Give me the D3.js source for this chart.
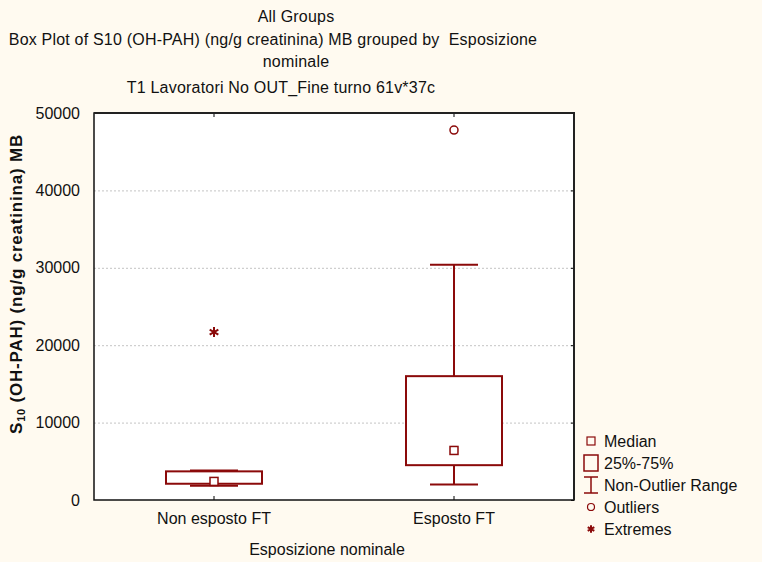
<!DOCTYPE html>
<html><head><meta charset="utf-8">
<script src="https://cdn.jsdelivr.net/npm/d3@7"></script>
<style>
html,body{margin:0;padding:0;background:#FFFAF0;}
svg{display:block;font-family:Arial,"Liberation Sans",sans-serif;}
</style></head>
<body><svg id="c" width="762" height="562"></svg>
<script>
const categories = ["Non esposto FT", "Esposto FT"];
const medians = [2400, 6400];
const q1 = [2100, 4500];
const q3 = [3700, 16000];
const whiskerLow = [1850, 2000];
const whiskerHigh = [3800, 30400];
const outliers = [[], [47800]];
const extremes = [[21700], []];
const yTicks = [0, 10000, 20000, 30000, 40000, 50000];
const titleLines = ["All Groups", "Box Plot of S10 (OH-PAH) (ng/g creatinina) MB grouped by  Esposizione", "nominale", "T1 Lavoratori No OUT_Fine turno 61v*37c"];
const legendLabels = ["Median", "25%-75%", "Non-Outlier Range", "Outliers", "Extremes"];

const col = "#8B0A0A";
const FF = "Arial,'Liberation Sans',sans-serif";
const svg = d3.select("#c");
svg.append("rect").attr("width",762).attr("height",562).attr("fill","#FFFAF0");

const L=94, T=113, R=574, B=500;
const x = d3.scaleBand().domain(categories).range([L,R]).padding(0);
const y = d3.scaleLinear().domain([0,50000]).range([B,T]);
const bw = x.bandwidth();

// titles
const tPos = [[296,22],[273,45],[296,67],[281,93]];
titleLines.forEach((t,i)=>{
  svg.append("text").attr("x",tPos[i][0]).attr("y",tPos[i][1]).attr("text-anchor","middle")
    .attr("font-size",16).attr("letter-spacing",0.2).attr("fill","#111").style("white-space","pre").text(t);
});

// plot bg
svg.append("rect").attr("x",L).attr("y",T).attr("width",R-L).attr("height",B-T).attr("fill","#fff");

// grid
const grid = svg.append("g").attr("transform",`translate(${L},0)`)
  .call(d3.axisLeft(y).tickValues(yTicks.filter(v=>v>0&&v<50000)).tickSize(-(R-L)).tickFormat(""));
grid.select(".domain").remove();
grid.selectAll("line").attr("stroke","#c4c4c4").attr("stroke-dasharray","2,2");

// y axis labels
const ya = svg.append("g").attr("transform",`translate(${L},0)`)
  .call(d3.axisLeft(y).tickValues(yTicks).tickSize(0).tickPadding(14).tickFormat(d3.format("d")));
ya.select(".domain").remove();
ya.selectAll("text").attr("font-size",16).attr("fill","#111").attr("font-family",FF);

// right-side inner ticks
const yr = svg.append("g").attr("transform",`translate(${R},0)`)
  .call(d3.axisRight(y).tickValues(yTicks).tickSize(-3).tickFormat(""));
yr.select(".domain").remove();
yr.selectAll("line").attr("stroke","#000");

// x axis
const xa = svg.append("g").attr("transform",`translate(0,${B})`)
  .call(d3.axisBottom(x).tickSize(-4).tickPadding(13));
xa.select(".domain").remove();
xa.selectAll("line").attr("stroke","#000");
xa.selectAll("text").attr("font-size",16).attr("fill","#111").attr("font-family",FF);
const xt = svg.append("g").attr("transform",`translate(0,${T})`)
  .call(d3.axisTop(x).tickSize(-4).tickFormat(""));
xt.select(".domain").remove();
xt.selectAll("line").attr("stroke","#000");

// frame
svg.append("rect").attr("x",L).attr("y",T).attr("width",R-L).attr("height",B-T)
  .attr("fill","none").attr("stroke","#111").attr("stroke-width",1.5);
svg.append("line").attr("x1",L).attr("x2",R+1).attr("y1",T).attr("y2",T).attr("stroke","#222").attr("stroke-width",2);
svg.append("line").attr("x1",R).attr("x2",R).attr("y1",T).attr("y2",B).attr("stroke","#222").attr("stroke-width",2);

// boxes
categories.forEach((c,i)=>{
  const cx = x(c)+bw/2;
  const g = svg.append("g").attr("stroke",col).attr("fill","none").attr("stroke-width",2);
  const cw = bw*0.2, boxW = bw*0.4;
  g.append("line").attr("x1",cx).attr("x2",cx).attr("y1",y(q3[i])).attr("y2",y(whiskerHigh[i]));
  g.append("line").attr("x1",cx).attr("x2",cx).attr("y1",y(q1[i])).attr("y2",y(whiskerLow[i]));
  g.append("line").attr("x1",cx-cw/2).attr("x2",cx+cw/2).attr("y1",y(whiskerHigh[i])).attr("y2",y(whiskerHigh[i]));
  g.append("line").attr("x1",cx-cw/2).attr("x2",cx+cw/2).attr("y1",y(whiskerLow[i])).attr("y2",y(whiskerLow[i]));
  g.append("rect").attr("x",cx-boxW/2).attr("y",y(q3[i])).attr("width",boxW).attr("height",y(q1[i])-y(q3[i])).attr("fill","#fff");
  g.append("rect").attr("x",cx-4).attr("y",y(medians[i])-4).attr("width",8).attr("height",8).attr("fill","#fff").attr("stroke-width",1.5);
  outliers[i].forEach(v=>{
    g.append("circle").attr("cx",cx).attr("cy",y(v)).attr("r",4).attr("stroke-width",1.5).attr("fill","#fff");
  });
  extremes[i].forEach(v=>{
    g.append("path").attr("transform",`translate(${cx},${y(v)})`)
      .attr("d",d3.symbol(d3.symbolAsterisk,70)()).attr("stroke-width",2);
  });
});

// y label
svg.append("text").attr("transform","translate(22,284) rotate(-90)").attr("text-anchor","middle")
  .attr("font-size",17).attr("font-weight","bold").attr("letter-spacing",0.8).attr("fill","#111")
  .html('S<tspan font-size="11" dy="3">10</tspan><tspan dy="-3"> (OH-PAH) (ng/g creatinina) MB</tspan>');

// x label
svg.append("text").attr("x",327).attr("y",555).attr("text-anchor","middle").attr("font-size",16).attr("fill","#111").text("Esposizione nominale");

// legend
const ly = [441,463,485,507,529];
const lg = svg.append("g");
legendLabels.forEach((t,i)=>{
  lg.append("text").attr("x",604).attr("y",ly[i]+6).attr("font-size",16).attr("fill","#111").text(t);
});
const lx = 591;
lg.append("rect").attr("x",lx-4).attr("y",ly[0]-4).attr("width",8).attr("height",8).attr("fill","none").attr("stroke",col).attr("stroke-width",1.2);
lg.append("rect").attr("x",lx-7).attr("y",ly[1]-8).attr("width",14).attr("height",16).attr("fill","none").attr("stroke",col).attr("stroke-width",1.5);
lg.append("line").attr("x1",lx).attr("x2",lx).attr("y1",ly[2]-8).attr("y2",ly[2]+8).attr("stroke",col).attr("stroke-width",1.5);
lg.append("line").attr("x1",lx-7).attr("x2",lx+7).attr("y1",ly[2]-8).attr("y2",ly[2]-8).attr("stroke",col).attr("stroke-width",1.5);
lg.append("line").attr("x1",lx-7).attr("x2",lx+7).attr("y1",ly[2]+8).attr("y2",ly[2]+8).attr("stroke",col).attr("stroke-width",1.5);
lg.append("circle").attr("cx",lx).attr("cy",ly[3]).attr("r",3.5).attr("fill","none").attr("stroke",col).attr("stroke-width",1.2);
lg.append("path").attr("transform",`translate(${lx},${ly[4]})`).attr("d",d3.symbol(d3.symbolAsterisk,40)()).attr("stroke",col).attr("stroke-width",2);
</script></body></html>
